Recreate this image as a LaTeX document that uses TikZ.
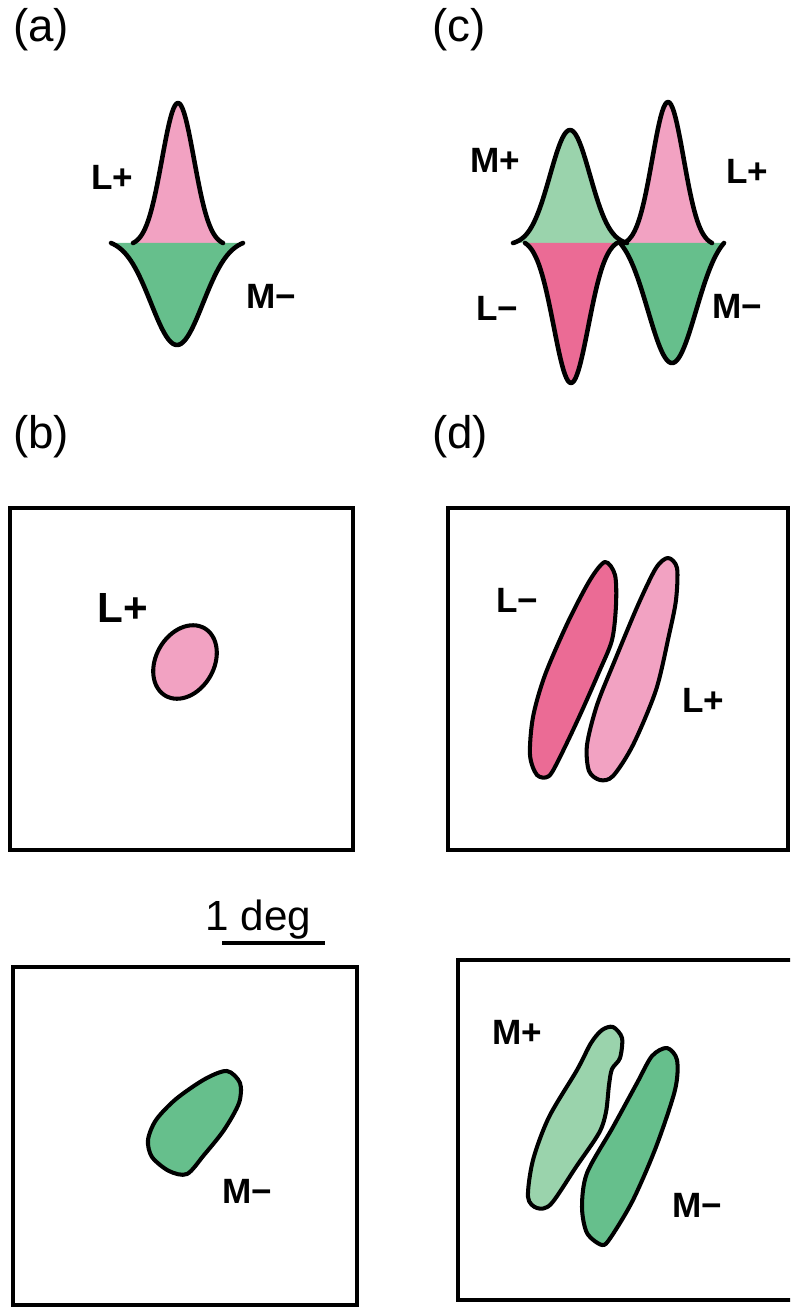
\documentclass[tikz,border=0pt]{standalone}
\usepackage{fontspec}
\setmainfont{Liberation Sans}
\definecolor{lpink}{HTML}{F2A2C2}
\definecolor{dpink}{HTML}{EB6B95}
\definecolor{lgreen}{HTML}{9AD3AC}
\definecolor{dgreen}{HTML}{66BF8C}
% centre/amplitude/2 sigma^2/half width/colour of each cone profile
\newcommand{\lobes}{178/140/512/45/lpink, 177/-102/1352/66/dgreen,
  570/113/800/57/lgreen, 668/141/490/44/lpink,
  571/-140/600/46/dpink, 672/-120/1152/52/dgreen}

\begin{document}
\begin{tikzpicture}[x=0.1mm, y=-0.1mm, every node/.style={inner sep=0pt},
  tag/.style={font=\fontsize{13}{15}\selectfont},
  cone/.style={font=\fontsize{10}{12}\selectfont\bfseries},
  frame/.style={draw, line width=1pt},
  blob/.style={draw, line width=1.15pt, line join=round}]
	\useasboundingbox (0,0) rectangle (790,1307);
	\clip (0,0) rectangle (790,1307);
	% panel tags
	\node[tag] (tagA) at (41,30) {(a)};
	\node[tag] (tagC) at (459,30) {(c)};
	\node[tag] (tagB) at (41,437) {(b)};
	\node[tag] (tagD) at (460,437) {(d)};
	% profiles (a) and (c)
	\foreach \c/\a/\s/\w/\col in \lobes {
	  \fill[\col] plot[domain=\c-\w:\c+\w, samples=61]
	    (\x,{243-(\a)*(exp(-(\x-\c)^2/\s)-exp(-\w^2/\s))/(1-exp(-\w^2/\s))}) -- cycle;
	}
	\foreach \c/\a/\s/\w/\col in \lobes {
	  \draw[line width=1.3pt, line join=round, line cap=round] plot[domain=\c-\w:\c+\w, samples=61]
	    (\x,{243-(\a)*(exp(-(\x-\c)^2/\s)-exp(-\w^2/\s))/(1-exp(-\w^2/\s))});
	}
	\node[cone] (aLp) at (112,177) {L+};
	\node[cone] (aMm) at (271,296) {M−};
	\node[cone] (cMp) at (495,160) {M+};
	\node[cone] (cLp) at (747,171) {L+};
	\node[cone] (cLm) at (497,308) {L−};
	\node[cone] (cMm) at (737,306) {M−};
	% receptive field maps
	\draw[frame] (10,508) rectangle (353,850);
	\draw[frame] (448,508) rectangle (788,850);
	\draw[frame] (13,967) rectangle (357,1305);
	\draw[frame] (458,960) rectangle (800,1300);
	% (b)
	\draw[blob, fill=lpink, rotate around={60:(185,662)}] (185,662) ellipse [x radius=39, y radius=29];
	\node[cone, font=\fontsize{12}{14}\selectfont\bfseries] (bLp) at (123,608) {L+};
	\draw[blob, fill=dgreen] plot[smooth cycle] coordinates {(227,1071) (240,1083) (239,1103)
	  (224,1130) (204,1155) (187,1174) (169,1171) (152,1157) (148,1140) (156,1120) (176,1099) (205,1079)};
	\node[cone] (bMm) at (247,1191) {M−};
	\node[font=\fontsize{12}{14}\selectfont, anchor=base west] (deg) at (205,930) {1 deg};
	\draw[line width=0.9pt] (222,943) -- (325,943);
	% (d)
	\draw[blob, fill=dpink] plot[smooth cycle] coordinates {(605,562) (615,575) (616,605) (612,640)
	  (599,672) (580,715) (561,755) (549,776) (537,775) (530,755) (533,717) (545,675) (568,622) (590,580)};
	\draw[blob, fill=lpink] plot[smooth cycle] coordinates {(668,558) (677,568) (676,600) (669,635)
	  (656,690) (633,745) (613,776) (600,780) (589,771) (587,745) (597,705) (615,660) (638,605) (656,568)};
	\node[cone] (dLm) at (517,600) {L−};
	\node[cone] (dLp) at (703,700) {L+};
	\draw[blob, fill=lgreen] plot[smooth cycle] coordinates {(613,1027) (622,1038) (620,1058) (612,1069)
	  (609,1085) (606,1112) (599,1133) (576,1167) (551,1204) (537,1208) (528,1197) (533,1160) (549,1117)
	  (577,1070) (591,1043) (602,1030)};
	\draw[blob, fill=dgreen] plot[smooth cycle] coordinates {(667,1048) (677,1060) (675,1090) (656,1147)
	  (633,1200) (611,1237) (602,1245) (587,1233) (582,1207) (587,1173) (613,1127) (637,1083) (652,1056)};
	\node[cone] (dMp) at (517,1032) {M+};
	\node[cone] (dMm) at (697,1205) {M−};
\end{tikzpicture}
\end{document}
